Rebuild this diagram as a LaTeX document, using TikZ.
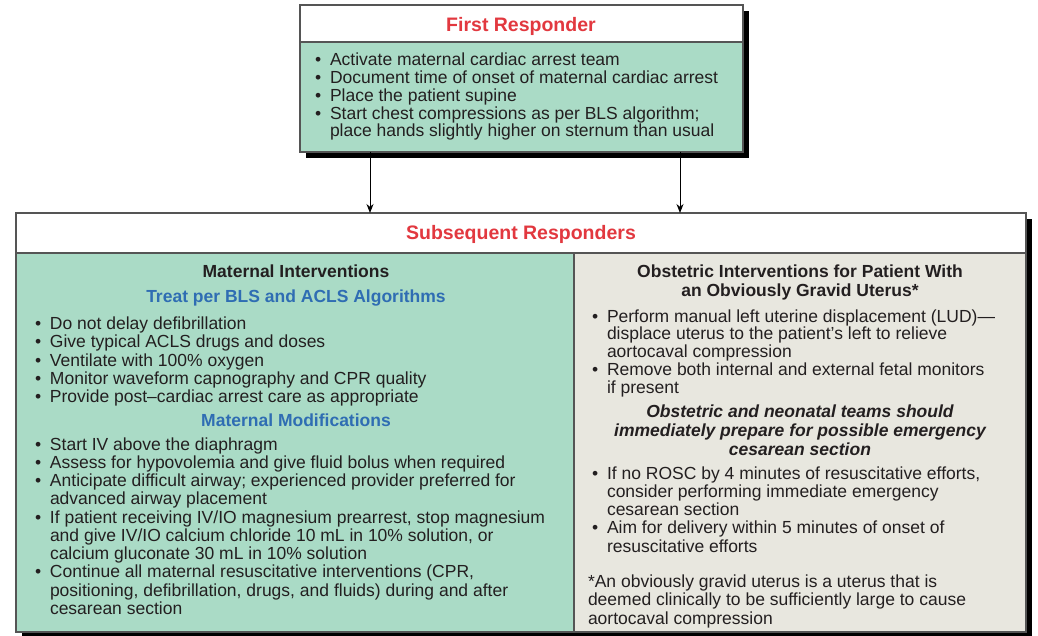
\documentclass[tikz,border=0pt]{standalone}
\usepackage{fontspec}
\setmainfont{Liberation Sans}
\usetikzlibrary{arrows.meta}

\definecolor{mint}{HTML}{AADBC6}
\definecolor{paper}{HTML}{E8E7DF}
\definecolor{ink}{HTML}{231F20}
\definecolor{hdrred}{HTML}{E2383F}
\definecolor{hdrblue}{HTML}{2F6DB3}
\definecolor{edge}{HTML}{555555}

% bullet marker and hanging indent for continuation lines
\newcommand{\blt}{\makebox[15pt][l]{\textbullet}}
\newcommand{\cnt}{\hspace*{15pt}}

\tikzset{
  frame/.style={inner sep=0pt, outer sep=0pt},
  txt/.style={inner sep=0pt, outer sep=0pt, text=ink, font=\fontsize{17.5}{18.25}\selectfont},
  ttl/.style={inner sep=0pt, outer sep=0pt, font=\fontsize{19.5}{22}\selectfont\bfseries, text=hdrred},
  subttl/.style={inner sep=0pt, outer sep=0pt, font=\fontsize{17.5}{19}\selectfont\bfseries},
  border/.style={draw=edge, line width=1.6pt},
  rule/.style={draw=edge, line width=1.2pt},
  flow/.style={draw=black, line width=1pt, -{Stealth[length=9pt,width=7pt]}},
}

\begin{document}
\begin{tikzpicture}[x=1pt,y=-1pt]
\useasboundingbox (0,0) rectangle (1038,636);

% ---------- First responder box ----------
\node[frame, minimum width=443pt, minimum height=147pt, anchor=north west] (first) at (300,5) {};
\coordinate (hdrA) at (0,42);
\fill[black] ([shift={(6,6)}]first.north west) rectangle ([shift={(6,6)}]first.south east);
\fill[mint] (first.north west) rectangle (first.south east);
\fill[white] (first.north west) rectangle (first.east |- hdrA);
\draw[rule] (first.west |- hdrA) -- (first.east |- hdrA);
\draw[border] (first.north west) rectangle (first.south east);

\node[ttl, anchor=base] (firstT) at (521,32) {First Responder};
\node[txt, anchor=base west] (firstL) at (315,66) {\fontsize{17.5}{17.75}\selectfont\parbox[t]{420pt}{%
\blt Activate maternal cardiac arrest team\\
\blt Document time of onset of maternal cardiac arrest\\
\blt Place the patient supine\\
\blt Start chest compressions as per BLS algorithm;\\
\cnt place hands slightly higher on sternum than usual}};

% ---------- Subsequent responders box ----------
\node[frame, minimum width=1010pt, minimum height=419pt, anchor=north west] (subseq) at (16,213) {};
\coordinate (hdrB) at (0,253);
\coordinate (mid) at (574,0);
\fill[black] ([shift={(6,6)}]subseq.north west) rectangle ([shift={(6,6)}]subseq.south east);
\fill[white] (subseq.north west) rectangle (subseq.east |- hdrB);
\fill[mint] (subseq.west |- hdrB) rectangle (mid |- subseq.south);
\fill[paper] (mid |- hdrB) rectangle (subseq.south east);
\draw[rule] (subseq.west |- hdrB) -- (subseq.east |- hdrB);
\draw[rule] (mid |- hdrB) -- (mid |- subseq.south);
\draw[border] (subseq.north west) rectangle (subseq.south east);

\node[ttl, anchor=base] (subseqT) at (521,240) {Subsequent Responders};

% connectors
\coordinate (colA) at (370,0);
\coordinate (colB) at (680,0);
\draw[flow] (first.south -| colA) -- (subseq.north -| colA);
\draw[flow] (first.south -| colB) -- (subseq.north -| colB);

% ---------- Maternal interventions (left column) ----------
\node[subttl, text=ink, anchor=base] (matT) at (296,277) {Maternal Interventions};
\node[subttl, text=hdrblue, anchor=base] (blsT) at (296,302) {Treat per BLS and ACLS Algorithms};
\node[txt, anchor=base west] (blsL) at (35,329.5) {\parbox[t]{530pt}{%
\blt Do not delay defibrillation\\
\blt Give typical ACLS drugs and doses\\
\blt Ventilate with 100\% oxygen\\
\blt Monitor waveform capnography and CPR quality\\
\blt Provide post–cardiac arrest care as appropriate}};
\node[subttl, text=hdrblue, anchor=base] (modT) at (296,426) {Maternal Modifications};
\node[txt, anchor=base west] (modL) at (35,450) {\parbox[t]{530pt}{%
\blt Start IV above the diaphragm\\
\blt Assess for hypovolemia and give fluid bolus when required\\
\blt Anticipate difficult airway; experienced provider preferred for\\
\cnt advanced airway placement\\
\blt If patient receiving IV/IO magnesium prearrest, stop magnesium\\
\cnt and give IV/IO calcium chloride 10 mL in 10\% solution, or\\
\cnt calcium gluconate 30 mL in 10\% solution\\
\blt Continue all maternal resuscitative interventions (CPR,\\
\cnt positioning, defibrillation, drugs, and fluids) during and after\\
\cnt cesarean section}};

% ---------- Obstetric interventions (right column) ----------
\node[subttl, text=ink, anchor=base] (obsT) at (800,277) {\parbox[t]{420pt}{\centering
Obstetric Interventions for Patient With\\
an Obviously Gravid Uterus*}};
\node[txt, anchor=base west] (obsL) at (592,322) {\fontsize{17.5}{17.75}\selectfont\parbox[t]{425pt}{%
\blt Perform manual left uterine displacement (LUD)—\\
\cnt displace uterus to the patient’s left to relieve\\
\cnt aortocaval compression\\
\blt Remove both internal and external fetal monitors\\
\cnt if present}};
\node[subttl, text=ink, font=\fontsize{17.5}{19}\selectfont\bfseries\itshape, anchor=base] (teamT) at (800,417) {\parbox[t]{430pt}{\centering
Obstetric and neonatal teams should\\
immediately prepare for possible emergency\\
cesarean section}};
\node[txt, anchor=base west] (csL) at (592,479) {\parbox[t]{425pt}{%
\blt If no ROSC by 4 minutes of resuscitative efforts,\\
\cnt consider performing immediate emergency\\
\cnt cesarean section\\
\blt Aim for delivery within 5 minutes of onset of\\
\cnt resuscitative efforts}};
\node[txt, anchor=base west] (noteL) at (588,587) {\fontsize{17.5}{18.5}\selectfont\parbox[t]{430pt}{%
*An obviously gravid uterus is a uterus that is\\
deemed clinically to be sufficiently large to cause\\
aortocaval compression}};
\end{tikzpicture}
\end{document}
